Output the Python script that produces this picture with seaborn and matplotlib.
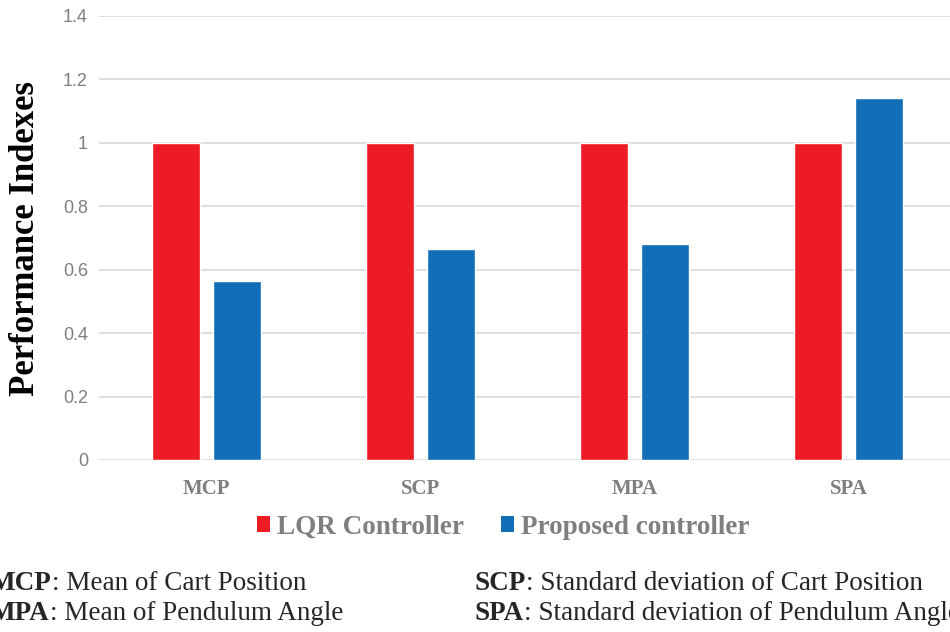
import matplotlib
matplotlib.use("Agg")
import matplotlib.pyplot as plt
import seaborn as sns
import pandas as pd
from matplotlib.patches import Patch

categories = ["MCP", "SCP", "MPA", "SPA"]
lqr_values = [1.0, 1.0, 1.0, 1.0]
proposed_values = [0.563, 0.666, 0.681, 1.142]
series_names = ["LQR Controller", "Proposed controller"]
y_ticks = [0, 0.2, 0.4, 0.6, 0.8, 1, 1.2, 1.4]
y_tick_labels = ["0", "0.2", "0.4", "0.6", "0.8", "1", "1.2", "1.4"]

df = pd.DataFrame({
    "cat": categories * 2,
    "value": lqr_values + proposed_values,
    "series": [series_names[0]] * 4 + [series_names[1]] * 4,
})

sns.set_style("white")
plt.rcParams["font.family"] = ["Liberation Sans", "DejaVu Sans"]

colors = ["#ED1C24", "#136EB8"]
fig = plt.figure(figsize=(9.5, 6.32), dpi=100)
ax = fig.add_axes([99/950, 1-460/632, 857/950, (460-16)/632])

sns.barplot(data=df, x="cat", y="value", hue="series", palette=colors,
            width=0.568, gap=0.21, ax=ax, legend=False, saturation=1)

ax.set_ylim(0, 1.4)
ax.set_xlim(-0.5, 3.5)
ax.set_yticks(y_ticks)
ax.set_yticklabels(y_tick_labels)
ax.yaxis.grid(True, color="#d9d9d9", linewidth=1.2)
ax.set_axisbelow(True)
for s in ax.spines.values():
    s.set_visible(False)
ax.tick_params(axis="both", length=0)
ax.tick_params(axis="y", labelsize=13, labelcolor="#7f7f7f", pad=8)
ax.tick_params(axis="x", pad=14)
for lab in ax.get_xticklabels():
    lab.set_fontfamily("Liberation Serif")
    lab.set_fontweight("bold")
    lab.set_fontsize(15)
    lab.set_color("#7f7f7f")
ax.set_xlabel("")
ax.set_ylabel("")

fig.text(26/950, 1-238/632, "Performance Indexes", rotation=90, ha="center", va="center",
         fontfamily="Liberation Serif", fontweight="bold", fontsize=25, color="black")

handles = [Patch(facecolor=c, edgecolor="none") for c in colors]
leg = fig.legend(handles, series_names, loc="center", bbox_to_anchor=(503/950, 1-527/632),
                 ncol=2, frameon=False, handlelength=0.5, handleheight=0.5,
                 handletextpad=0.25, columnspacing=1.35,
                 prop={"family": "Liberation Serif", "weight": "bold", "size": 19.5})
for t in leg.get_texts():
    t.set_color("#7f7f7f")

fs = 19.5
def line(x, y, bold, rest):
    t = fig.text(x/950, 1-y/632, bold, fontsize=fs, fontweight="bold",
                 fontfamily="Liberation Serif", va="center", ha="left")
    fig.canvas.draw()
    bb = t.get_window_extent()
    fig.text(bb.x1/950, 1-y/632, rest, fontsize=fs,
             fontfamily="Liberation Serif", va="center", ha="left")

line(-10, 583, "MCP", ": Mean of Cart Position")
line(-10, 613, "MPA", ": Mean of Pendulum Angle")
line(475, 583, "SCP", ": Standard deviation of Cart Position")
line(475, 613, "SPA", ": Standard deviation of Pendulum Angle")

fig.savefig("out.png", dpi=100)
